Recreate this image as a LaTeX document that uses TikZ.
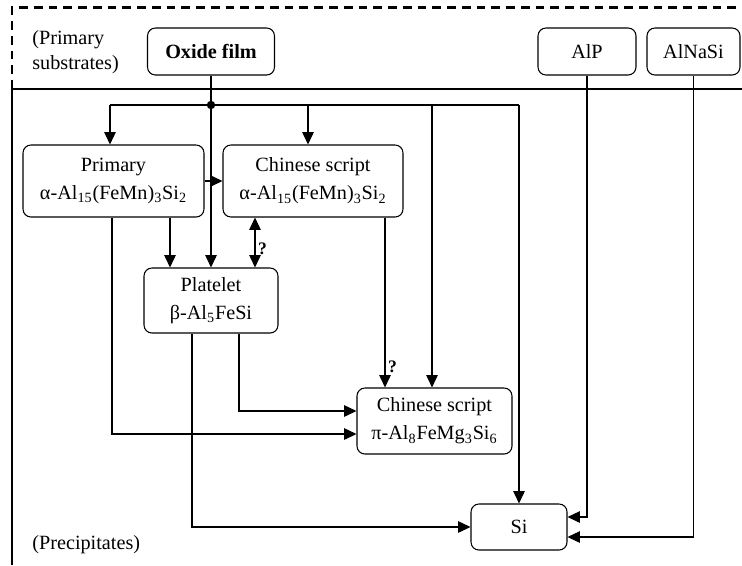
\documentclass[tikz,border=0pt]{standalone}
\usepackage{fontspec}
\setmainfont{Liberation Serif}
\usetikzlibrary{arrows.meta,calc}

\tikzset{
  phase/.style={draw, rounded corners=4.5pt, align=center, inner sep=2pt,
    font=\fontsize{11.5}{16}\selectfont},
  flow/.style={-{Triangle[length=7pt,width=6.5pt]}},
  both/.style={{Triangle[length=7pt,width=6.5pt]}-{Triangle[length=7pt,width=6.5pt]}},
  side/.style={align=left, font=\fontsize{11.5}{14}\selectfont},
}

\begin{document}
\begin{tikzpicture}[x=0.02cm, y=-0.02cm, line width=0.6pt]
  \useasboundingbox (0,0) rectangle (742,565);
  % frames
  \draw[line width=1.6pt, dash pattern=on 5pt off 3.4pt] (12,89) -- (12,7.5) -- (742,7.5);
  \draw[line width=0.8pt] (12,89) -- (742,89);
  \draw[line width=1.5pt] (12,89) -- (12,565);
  \node[side, anchor=west] (subs) at (26,52) {(Primary\\substrates)};
  \node[side, anchor=west] (prec) at (26,545) {(Precipitates)};

  % primary substrates
  \node[phase, minimum width=2.54cm, minimum height=0.94cm, font=\fontsize{11.5}{16}\selectfont\bfseries] (oxide) at (211,51.5) {Oxide film};
  \node[phase, minimum width=1.96cm, minimum height=0.94cm] (alp) at (587,51.5) {AlP};
  \node[phase, minimum width=1.86cm, minimum height=0.94cm] (alnasi) at (693.5,51.5) {AlNaSi};

  % precipitates
  \node[phase, minimum width=3.62cm, minimum height=1.44cm] (prim) at (113.5,181)
    {Primary\\α-Al\textsubscript{15}(FeMn)\textsubscript{3}Si\textsubscript{2}};
  \node[phase, minimum width=3.6cm, minimum height=1.44cm] (chin) at (313,181)
    {Chinese script\\α-Al\textsubscript{15}(FeMn)\textsubscript{3}Si\textsubscript{2}};
  \node[phase, minimum width=2.68cm, minimum height=1.3cm] (plat) at (211,300.5)
    {Platelet\\β-Al\textsubscript{5}FeSi};
  \node[phase, minimum width=3.1cm, minimum height=1.32cm] (pi) at (434.5,421)
    {Chinese script\\π-Al\textsubscript{8}FeMg\textsubscript{3}Si\textsubscript{6}};
  \node[phase, minimum width=1.92cm, minimum height=0.92cm] (si) at (519,527) {Si};

  % oxide film bus
  \coordinate (b1) at (110,105);
  \coordinate (b2) at (308,105);
  \coordinate (b3) at (432,105);
  \coordinate (b4) at (519,105);
  \draw (b1) -- (b4);
  \fill (oxide.south |- b1) circle (2.4pt);
  \draw[flow] (oxide.south) -- (plat.north);
  \draw[flow] (b1) -- (b1 |- prim.north);
  \draw[flow] (b2) -- (b2 |- chin.north);
  \draw[flow] (b3) -- (b3 |- pi.north);
  \draw[flow] (b4) -- (si.north);

  % transformations
  \draw[flow] (prim.east) -- (chin.west);
  \coordinate (p1) at ($(prim.south)+(56.5,0)$);
  \draw[flow] (p1) -- (p1 |- plat.north);
  \coordinate (c1) at ($(chin.south)+(-58,0)$);
  \draw[both] (c1) -- (c1 |- plat.north) node[pos=0.62, right, inner sep=1.5pt, font=\bfseries] {?};
  \coordinate (c2) at ($(chin.south)+(72,0)$);
  \draw[flow] (c2) -- (c2 |- pi.north) node[pos=0.88, right, inner sep=1.5pt, font=\bfseries] {?};
  \coordinate (p2) at ($(prim.south)+(-1.5,0)$);
  \draw[flow] (p2) |- ($(pi.west)+(0,13)$);
  \coordinate (l1) at ($(plat.south)+(28,0)$);
  \draw[flow] (l1) |- ($(pi.west)+(0,-10)$);
  \coordinate (l2) at ($(plat.south)+(-19,0)$);
  \draw[flow] (l2) |- (si.west);
  \draw[flow] (alp.south) |- ($(si.east)+(0,-10)$);
  \draw[flow] (alnasi.south) |- ($(si.east)+(0,10)$);
\end{tikzpicture}
\end{document}
